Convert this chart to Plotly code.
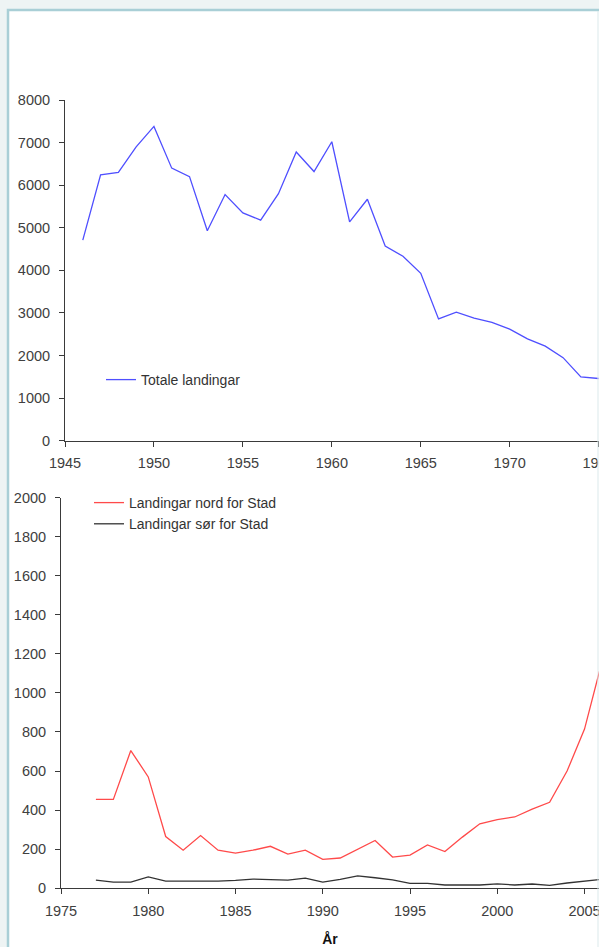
import plotly.graph_objects as go

# ---- data ----
years_total = list(range(1946, 1976))
totale = [4710, 6240, 6300, 6900, 7380, 6400, 6200, 4930, 5780, 5350,
          5180, 5800, 6780, 6320, 7020, 5140, 5670, 4570, 4330, 3930,
          2860, 3020, 2880, 2780, 2620, 2390, 2220, 1950, 1500, 1460]

years_stad = list(range(1977, 2007))
nord = [455, 455, 705, 570, 265, 195, 270, 195, 180, 195,
        215, 175, 195, 148, 155, 200, 245, 160, 170, 222,
        188, 262, 330, 352, 365, 405, 440, 600, 815, 1160]
sor = [42, 32, 32, 58, 37, 37, 37, 37, 41, 47,
       44, 42, 52, 32, 46, 64, 54, 43, 25, 25,
       17, 17, 17, 23, 17, 22, 15, 27, 36, 46]

top_ticks = [1945, 1950, 1955, 1960, 1965, 1970, 1975]
bot_ticks = [1975, 1980, 1985, 1990, 1995, 2000, 2005]

name_total = "Totale landingar"
name_nord = "Landingar nord for Stad"
name_sor = "Landingar sør for Stad"
xtitle = "År"

W, H = 599, 947
FONT = "Liberation Sans, Arial, sans-serif"
AXC = "#3a3a3a"

fig = go.Figure()
fig.add_trace(go.Scatter(x=years_total, y=totale, mode="lines", name=name_total,
                         line=dict(color="#4f4fff", width=1.3),
                         xaxis="x", yaxis="y", legend="legend"))
fig.add_trace(go.Scatter(x=years_stad, y=nord, mode="lines", name=name_nord,
                         line=dict(color="#ff4a4a", width=1.3),
                         xaxis="x2", yaxis="y2", legend="legend2"))
fig.add_trace(go.Scatter(x=years_stad, y=sor, mode="lines", name=name_sor,
                         line=dict(color="#333333", width=1.3),
                         xaxis="x2", yaxis="y2", legend="legend2"))

def py(px):
    return (H - px) / H

axis_common = dict(showgrid=False, zeroline=False, showline=True, linecolor=AXC,
                   linewidth=1, ticks="outside", ticklen=5, tickcolor=AXC,
                   tickfont=dict(family=FONT, size=14.5, color="#404040"),
                   automargin=False, fixedrange=True)

fig.update_layout(
    width=W, height=H,
    margin=dict(l=0, r=0, t=0, b=0),
    paper_bgcolor="#eef4f4",
    plot_bgcolor="rgba(0,0,0,0)",
    font=dict(family=FONT, size=14, color="#333333"),
    xaxis=dict(domain=[65 / W, 1], range=[1945, 1975.02], tickvals=top_ticks,
               anchor="y", ticklabelstandoff=4, ticklabeloverflow="allow",
               **axis_common),
    yaxis=dict(domain=[py(440.7), py(100)], range=[0, 8000], dtick=1000,
               anchor="x", ticklabelstandoff=6, **axis_common),
    xaxis2=dict(domain=[61 / W, 1], range=[1975, 2005.83], tickvals=bot_ticks,
                anchor="y2", ticklabelstandoff=4, ticklabeloverflow="allow",
                title=dict(text="<b>" + xtitle + "</b>", standoff=16,
                           font=dict(family=FONT, size=14, color="#111111")),
                **axis_common),
    yaxis2=dict(domain=[py(888.3), py(497.5)], range=[0, 2000], dtick=200,
                anchor="x2", ticklabelstandoff=6, **axis_common),
    legend=dict(x=101 / W, xanchor="left", y=py(380), yanchor="middle",
                bgcolor="rgba(0,0,0,0)", font=dict(family=FONT, size=14, color="#333333")),
    legend2=dict(x=89 / W, xanchor="left", y=py(513.5), yanchor="middle",
                 bgcolor="rgba(0,0,0,0)", font=dict(family=FONT, size=14, color="#333333")),
    showlegend=True,
    shapes=[
        dict(type="rect", xref="paper", yref="paper", x0=8 / W, x1=1.05,
             y0=-0.05, y1=py(10), fillcolor="white",
             line=dict(color="#a9cfd6", width=2.5), layer="below"),
        dict(type="line", xref="paper", yref="paper", x0=598 / W, x1=598 / W,
             y0=0, y1=py(11), line=dict(color="#dbe9eb", width=1), layer="above"),
    ],
)

fig.write_html(
    "out.html",
    config={"displayModeBar": False},
    post_script="document.body.style.margin='0';document.body.style.overflow='hidden';"
                "document.body.style.background='#eef4f4';",
)
